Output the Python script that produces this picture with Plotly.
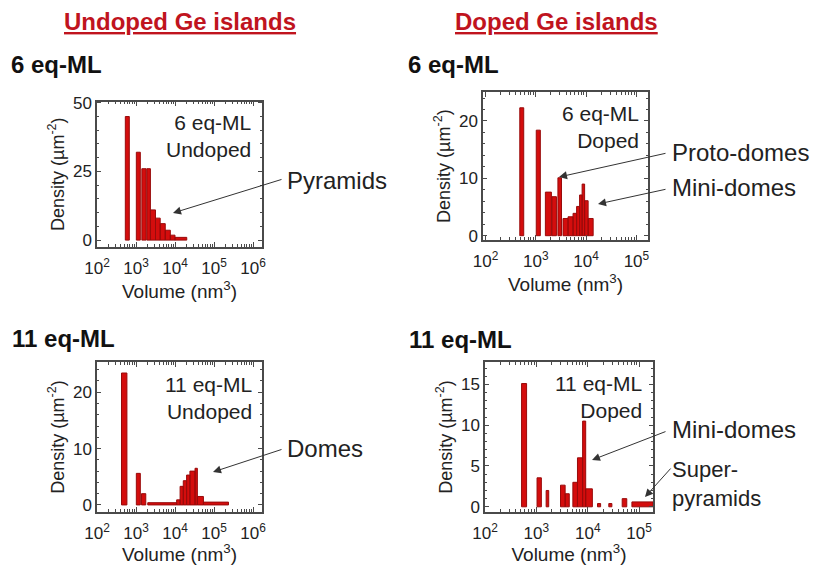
import plotly.graph_objects as go

W, H = 815, 565

# ---------------- data ----------------
dec_wide = [2, 3, 4, 5, 6]          # x tick exponents, undoped panels
dec_narrow = [2, 3, 4, 5]           # x tick exponents, doped panels

# 6 eq-ML undoped : bin edges (nm^3) and density (um^-2)
p1_left = [532, 1020, 1410, 1900, 2340, 3160, 4170, 5620, 7590, 10000]
p1_right = [673, 1290, 1820, 2340, 3160, 4170, 5620, 7590, 10000, 20000]
p1_density = [45, 32, 26, 26, 11, 8, 6, 3.6, 1.8, 1.0]
p1_yticks = [0, 25, 50]

# 6 eq-ML doped
p2_left = [480, 1020, 1550, 2090, 2750, 3470, 4370, 5500, 6460, 7410, 8320, 9330, 10960]
p2_right = [575, 1230, 2040, 2570, 3240, 4370, 5500, 6460, 7410, 8320, 9330, 10960, 13800]
p2_density = [22.3, 18.4, 7.6, 6.8, 10.1, 3.0, 3.3, 3.9, 5.1, 7.1, 9.0, 6.1, 3.0]
p2_yticks = [0, 10, 20]

# 11 eq-ML undoped
p3_left = [425, 1020, 1380, 2000, 11000, 13500, 16300, 19800, 24100, 32600, 37400, 53500]
p3_right = [585, 1290, 1780, 11000, 13500, 16300, 19800, 24100, 32600, 37400, 53500, 235000]
p3_density = [23.4, 5.6, 2.0, 0.4, 0.9, 3.3, 4.3, 5.3, 6.0, 6.5, 1.5, 0.5]
p3_yticks = [0, 10, 20]

# 11 eq-ML doped
p4_left = [515, 1030, 1550, 2950, 3630, 5130, 6310, 7940, 9120, 15500, 25700, 46800, 72400]
p4_right = [645, 1250, 1740, 3630, 4370, 6310, 7940, 9120, 12300, 17800, 29500, 57500, 186000]
p4_density = [15.1, 3.55, 2.0, 2.65, 1.6, 3.0, 6.0, 10.5, 2.2, 0.4, 0.4, 1.0, 0.6]
p4_yticks = [0, 5, 10, 15]

column_titles = ["Undoped Ge islands", "Doped Ge islands"]
row_titles = ["6 eq-ML", "11 eq-ML"]
panel_labels = ["6 eq-ML<br>Undoped", "6 eq-ML<br>Doped", "11 eq-ML<br>Undoped", "11 eq-ML<br>Doped"]

# ---------------- styling ----------------
FONT = "Liberation Sans, Arial, Helvetica, sans-serif"
RED = "#d40d0d"
DARK = "#980b0b"
AXC = "#4a4a4a"
HEAD_RED = "#c0141e"


def px(x):
    return x / W


def py(y):
    return 1 - y / H


def bars_xy(left, right, dens):
    xs, ys = [], []
    for l, r, d in zip(left, right, dens):
        xs += [l, l, r, r, l, None]
        ys += [0, d, d, 0, 0, None]
    return xs, ys


panels = [
    dict(left=p1_left, right=p1_right, dens=p1_density, yt=p1_yticks, dec=dec_wide,
         xr=[2, 6.23], yr=[-2.4, 50.4], xd=[97, 262], yd=[101.7, 246.7], ym=5),
    dict(left=p2_left, right=p2_right, dens=p2_density, yt=p2_yticks, dec=dec_narrow,
         xr=[1.95, 5.23], yr=[-0.75, 25], xd=[483, 648], yd=[92.3, 240], ym=2),
    dict(left=p3_left, right=p3_right, dens=p3_density, yt=p3_yticks, dec=dec_wide,
         xr=[2, 6.23], yr=[-1.2, 25.3], xd=[97, 262], yd=[362.3, 511.7], ym=2),
    dict(left=p4_left, right=p4_right, dens=p4_density, yt=p4_yticks, dec=dec_narrow,
         xr=[2, 5.27], yr=[-0.6, 17.7], xd=[485, 653], yd=[362.3, 511.7], ym=1),
]

fig = go.Figure()
layout = dict(
    width=W, height=H, margin=dict(l=0, r=0, t=0, b=0),
    paper_bgcolor="white", plot_bgcolor="white",
    font=dict(family=FONT, color="#222"), showlegend=False,
)

for i, p in enumerate(panels):
    n = "" if i == 0 else str(i + 1)
    xs, ys = bars_xy(p["left"], p["right"], p["dens"])
    fig.add_trace(go.Scatter(
        x=xs, y=ys, mode="lines", fill="toself", fillcolor=RED,
        line=dict(color=DARK, width=1), hoverinfo="skip",
        xaxis="x" + n, yaxis="y" + n,
    ))
    layout["xaxis" + n] = dict(
        type="log", range=p["xr"], domain=[px(p["xd"][0]), px(p["xd"][1])],
        anchor="y" + n, tickmode="array",
        tickvals=[10 ** e for e in p["dec"]],
        ticktext=["10<sup>%d</sup>" % e for e in p["dec"]],
        ticks="inside", ticklen=5, tickwidth=1, tickcolor=AXC,
        minor=dict(ticks="inside", ticklen=3, dtick="D1", tickcolor=AXC, showgrid=False),
        showline=True, linecolor=AXC, linewidth=1.5, mirror="allticks",
        showgrid=False, zeroline=False, automargin=False, ticklabelstandoff=5,
        tickfont=dict(size=17, family=FONT, color="#222"),
        title=dict(text="Volume (nm<sup>3</sup>)", font=dict(size=19, family=FONT, color="#222"),
                   standoff=0),
    )
    layout["yaxis" + n] = dict(
        range=p["yr"], domain=[py(p["yd"][1]), py(p["yd"][0])],
        anchor="x" + n, tickmode="array", tickvals=p["yt"],
        ticks="inside", ticklen=4, tickwidth=1, tickcolor=AXC,
        minor=dict(ticks="inside", ticklen=2, dtick=p["ym"], tickcolor=AXC, showgrid=False),
        showline=True, linecolor=AXC, linewidth=1.5, mirror="allticks",
        showgrid=False, zeroline=False, automargin=False,
        tickfont=dict(size=17, family=FONT, color="#222"),
        title=dict(text="Density (µm<sup>-2</sup>)", font=dict(size=18, family=FONT, color="#222"),
                   standoff=4),
    )

ann = []
# column headers
for txt, cx in zip(column_titles, [180, 556]):
    ann.append(dict(x=px(cx), y=py(21), xref="paper", yref="paper", showarrow=False,
                    text="<b><u>%s</u></b>" % txt, xanchor="center", yanchor="middle",
                    font=dict(size=24, color=HEAD_RED, family=FONT)))
# row labels
row_pos = [(row_titles[0], 9, 65), (row_titles[0], 406, 65),
           (row_titles[1], 10, 338), (row_titles[1], 407, 339)]
for txt, lx, ly in row_pos:
    ann.append(dict(x=px(lx), y=py(ly), xref="paper", yref="paper", showarrow=False,
                    text="<b>%s</b>" % txt, xanchor="left", yanchor="middle",
                    font=dict(size=24, color="#111", family=FONT)))
# in-panel labels
for txt, (rx, cy) in zip(panel_labels, [(253, 136), (641, 127), (254, 398), (644, 397)]):
    ann.append(dict(x=px(rx), y=py(cy), xref="paper", yref="paper", showarrow=False,
                    text=txt, xanchor="right", yanchor="middle", align="right",
                    font=dict(size=21, color="#222", family=FONT)))
# callout texts
callouts = [("Pyramids", 285, 180), ("Proto-domes", 670, 152), ("Mini-domes", 670, 188),
            ("Domes", 285, 449), ("Mini-domes", 670, 429), ("Super-<br>pyramids", 670, 484)]
for txt, lx, cy in callouts:
    ann.append(dict(x=px(lx), y=py(cy), xref="paper", yref="paper", showarrow=False,
                    text=txt, xanchor="left", yanchor="middle", align="left",
                    font=dict(size=24 if "<br>" not in txt else 22, color="#222", family=FONT)))
# arrows: (tail x, tail y, head x, head y) in pixels
arrows = [(283, 179, 173, 213), (667, 153, 559, 177), (667, 189, 598, 204),
          (283, 449, 213, 472), (667, 431, 592, 460), (672, 467, 645, 497)]
for tx, ty, hx, hy in arrows:
    ann.append(dict(x=px(hx), y=py(hy), xref="paper", yref="paper", text="",
                    showarrow=True, ax=tx - hx, ay=ty - hy, axref="pixel", ayref="pixel",
                    arrowhead=2, arrowsize=1.6, arrowwidth=1, arrowcolor="#333"))

layout["annotations"] = ann
fig.update_layout(**layout)
fig.write_html("out.html", config={"displayModeBar": False},
               post_script="document.body.style.margin='0';document.body.style.overflow='hidden';")
